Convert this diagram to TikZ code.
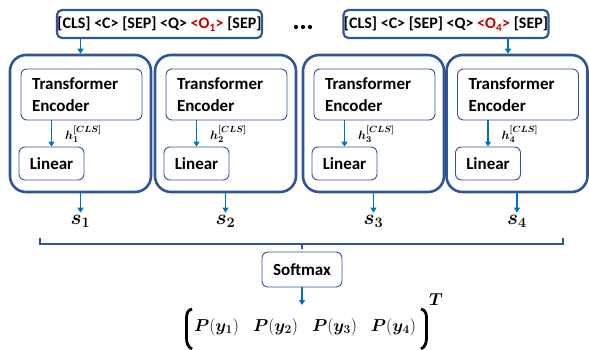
\documentclass[tikz,border=0pt]{standalone}
\usepackage[no-math]{fontspec}
\setmainfont{Carlito}
\usepackage{bm}
\usetikzlibrary{arrows.meta}
\definecolor{boxblue}{HTML}{2F5597}
\definecolor{arrblue}{HTML}{0070C0}
\definecolor{optred}{HTML}{C00000}
\begin{document}
\begin{tikzpicture}[x=1pt,y=-1pt]
\tikzstyle{every node}+=[inner sep=0pt]
\tikzstyle{inputbox}=[draw=boxblue, line width=2.2pt, rounded corners=5pt, minimum width=205pt, minimum height=28pt, font=\fontsize{16}{19}\bfseries\selectfont]
\tikzstyle{outerbox}=[draw=boxblue, line width=2.6pt, rounded corners=16pt, minimum width=141pt, minimum height=137pt]
\tikzstyle{encbox}=[draw=boxblue, line width=0.9pt, rounded corners=6pt, minimum width=121pt, minimum height=51pt, text width=99pt, align=left, font=\fontsize{17}{22}\bfseries\selectfont]
\tikzstyle{linbox}=[draw=boxblue, line width=0.9pt, rounded corners=6pt, minimum width=65pt, minimum height=33pt, font=\fontsize{17}{20}\bfseries\selectfont]
\tikzstyle{arr}=[draw=arrblue, line width=1.4pt, -{Triangle[width=6pt,length=5pt]}]
\tikzstyle{brline}=[draw=boxblue, line width=1.6pt]
\tikzstyle{paren}=[draw=black, line width=2.8pt]
\tikzstyle{hlab}=[anchor=west, font=\fontsize{12.5}{14}\boldmath\selectfont]
\tikzstyle{slab}=[font=\fontsize{20}{24}\boldmath\selectfont]
\useasboundingbox (0,0) rectangle (589,349);
\draw (159.5,24) node [inputbox] (in1) {[CLS] <C> [SEP] <Q> \textcolor{optred}{<O\textsubscript{1}>} [SEP]};
\draw (446,24) node [inputbox] (in4) {[CLS] <C> [SEP] <Q> \textcolor{optred}{<O\textsubscript{4}>} [SEP]};
\fill [black] (296,27) circle (2.1);
\fill [black] (303,27) circle (2.1);
\fill [black] (310,27) circle (2.1);
\draw (80.5,123.5) node [outerbox] (b1) {};
\draw (225.5,123.5) node [outerbox] (b2) {};
\draw (373.5,123.5) node [outerbox] (b3) {};
\draw (517,123.5) node [outerbox] (b4) {};
\draw (81.5,94.5) node [encbox] (e1) {Transformer\\Encoder};
\draw (226.5,94.5) node [encbox] (e2) {Transformer\\Encoder};
\draw (374.5,94.5) node [encbox] (e3) {Transformer\\Encoder};
\draw (518,94.5) node [encbox] (e4) {Transformer\\Encoder};
\draw (51.5,163.5) node [linbox] (l1) {Linear};
\draw (196.5,163.5) node [linbox] (l2) {Linear};
\draw (344.5,163.5) node [linbox] (l3) {Linear};
\draw (488,163.5) node [linbox] (l4) {Linear};
\draw (65,134) node [hlab] (h1) {$h_1^{[CLS]}$};
\draw (210,134) node [hlab] (h2) {$h_2^{[CLS]}$};
\draw (358,134) node [hlab] (h3) {$h_3^{[CLS]}$};
\draw (501.5,134) node [hlab] (h4) {$h_4^{[CLS]}$};
\draw (80.5,221) node [slab] (s1) {$s_1$};
\draw (225.5,221) node [slab] (s2) {$s_2$};
\draw (373.5,221) node [slab] (s3) {$s_3$};
\draw (517,221) node [slab] (s4) {$s_4$};
\coordinate (t4) at (508,0);
\draw [arr] (in1.south -| b1) -- (b1.north);
\draw [arr] (in4.south -| t4) -- (t4 |- b4.north);
\draw [arr] (e1.south -| l1) -- (l1.north);
\draw [arr] (e2.south -| l2) -- (l2.north);
\draw [arr] (e3.south -| l3) -- (l3.north);
\draw [arr] (e4.south -| l4) -- (l4.north);
\draw [arr, shorten >=2pt] (b1.south) -- (b1.south |- s1.north);
\draw [arr, shorten >=2pt] (b2.south) -- (b2.south |- s2.north);
\draw [arr, shorten >=2pt] (b3.south) -- (b3.south |- s3.north);
\draw [arr, shorten >=2pt] (b4.south) -- (b4.south |- s4.north);
\coordinate (bl) at (40,244);
\coordinate (br) at (563,244);
\coordinate (bm) at (302,244);
\draw [brline] (40,238) -- (bl) -- (br) -- (563,238);
\draw [brline] (bm) -- (302,249);
\draw (302,269.5) node [linbox, minimum width=80pt, minimum height=35pt] (sm) {Softmax};
\draw (305,327) node [font=\fontsize{17.5}{20}\selectfont] (pr) {$\bm{P}(\bm{y}_{\bm{1}})\hskip14pt \bm{P}(\bm{y}_{\bm{2}})\hskip14pt \bm{P}(\bm{y}_{\bm{3}})\hskip14pt \bm{P}(\bm{y}_{\bm{4}})$};
\draw (436,300) node [font=\fontsize{17}{20}\boldmath\selectfont] (tr) {$T$};
\draw [paren] (192,309) .. controls (188,310) and (186.5,313) .. (186.5,318) -- (186.5,338) .. controls (186.5,343) and (188,347) .. (192,349);
\draw [paren] (421,309) .. controls (425,310) and (426.5,313) .. (426.5,318) -- (426.5,338) .. controls (426.5,343) and (425,347) .. (421,349);
\coordinate (pin) at (302,305);
\draw [arr] (sm.south) -- (pin);
\end{tikzpicture}
\end{document}
